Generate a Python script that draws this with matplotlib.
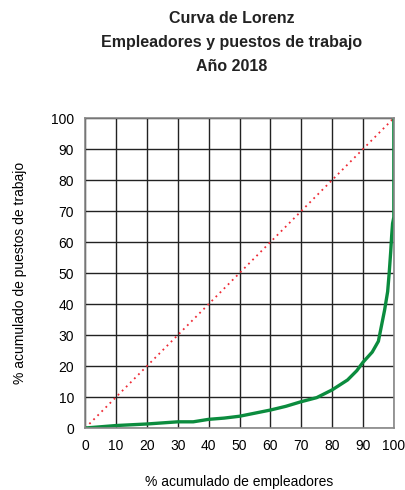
import numpy as np
import matplotlib.pyplot as plt

plt.rcParams['font.family'] = ['Liberation Sans', 'DejaVu Sans']

# curva de Lorenz
emp = [0, 5, 10, 20, 30, 35, 40, 45, 50, 55, 60, 65, 70, 75, 80, 85, 88, 90,
       93, 95, 95.5, 96, 97, 98, 98.5, 99, 99.3, 99.6, 100, 100]
puestos = [0, 0.4, 0.8, 1.3, 2.0, 2.0, 2.8, 3.2, 3.8, 4.8, 5.8, 7.0, 8.5, 9.8,
           12.3, 15.5, 18.5, 21.2, 24.5, 28.0, 30.5, 33, 38, 44, 50, 57, 62, 66, 68, 100]
igualdad = [0, 100]

fig = plt.figure(figsize=(4.06, 4.90), dpi=100)
ax = fig.add_axes([0.21, 0.1265, 0.76, 0.6325])

ax.plot(igualdad, igualdad, color='#ee2a35', linestyle=(0, (1, 2.2)), linewidth=1.3)
ax.plot(emp, puestos, color='#0b8c3e', linewidth=2.4, solid_capstyle='butt')

ax.set_xlim(0, 100)
ax.set_ylim(0, 100)
ax.set_xticks(range(0, 101, 10))
ax.set_yticks(range(0, 101, 10))
ax.grid(True, color='#222222', linewidth=1.0)
ax.set_axisbelow(True)
ax.tick_params(length=0, labelsize=10, pad=8)
for s in ax.spines.values():
    s.set_color('#888888')
    s.set_linewidth(1.2)

ax.set_xlabel('% acumulado de empleadores', fontsize=10, labelpad=16)
ax.set_ylabel('% acumulado de puestos de trabajo', fontsize=10, labelpad=17)

fig.text(0.57, 0.978, 'Curva de Lorenz\nEmpleadores y puestos de trabajo\nAño 2018',
         ha='center', va='top', fontsize=11.5, fontweight='bold', linespacing=1.75,
         color='#222222')

fig.savefig('out.png', dpi=100)
